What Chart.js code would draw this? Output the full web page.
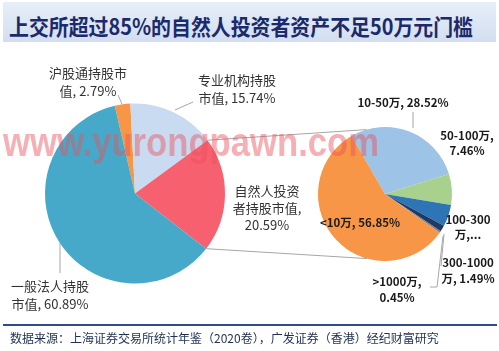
<!DOCTYPE html>
<html>
<head>
<meta charset="utf-8">
<script src="https://cdn.jsdelivr.net/npm/chart.js@4.4.1/dist/chart.umd.min.js"></script>
<style>
  html, body { margin: 0; padding: 0; background: #fff; }
  #wrap { position: relative; width: 499px; height: 351px; overflow: hidden; font-family: "Noto Sans CJK SC", sans-serif; }
  #title { position: absolute; left: 3px; top: 2px; width: 493px; height: 40px; background: linear-gradient(#e7eef8, #d2def0); }
  #title span { position: absolute; left: 6px; top: 12px; line-height: 22px; font-size: 22px; font-weight: bold; color: #1b2a6b;
                white-space: nowrap; transform-origin: 0 50%; }
  canvas { position: absolute; left: 0; top: 0; }
  #wm { position: absolute; left: 3px; top: 122px; font-family: "Liberation Sans", sans-serif; font-size: 40px; line-height: 40px;
        font-weight: bold; color: rgba(236, 80, 92, 0.45); white-space: nowrap; pointer-events: none;
        transform-origin: 0 50%; }
  #rule { position: absolute; left: 3px; top: 324px; width: 494px; height: 2px; background: #2e4c8a; }
  #src { position: absolute; left: 10px; top: 332px; font-size: 12px; line-height: 12px; color: #1f3050; white-space: nowrap; }
</style>
</head>
<body>
<div id="wrap">
  <div id="title"><span id="titleText">上交所超过85%的自然人投资者资产不足50万元门槛</span></div>
  <canvas id="leftPie" width="499" height="351"></canvas>
  <canvas id="rightPie" width="499" height="351"></canvas>
  <div id="wm">www.yurongpawn.com</div>
  <div id="rule"></div>
  <div id="src">数据来源：上海证券交易所统计年鉴（2020卷），广发证券（香港）经纪财富研究</div>
</div>
<script>
// 数据
const leftNames = ['沪股通持股市值', '专业机构持股市值', '自然人投资者持股市值', '一般法人持股市值'];
const leftValues = [2.79, 15.74, 20.59, 60.89];
const leftColors = ['#f79646', '#c9dbf0', '#f7606f', '#47a9c9'];

const rightNames = ['10-50万', '50-100万', '100-300万', '300-1000万', '>1000万', '<10万'];
const rightValues = [28.52, 7.46, 5.23, 1.49, 0.45, 56.85];
const rightColors = ['#9dc3e6', '#a9d18e', '#2e75b6', '#1f3864', '#7f7f7f', '#f79646'];

// 标签位置: [中心x, 首行y, 行高, 换行位置]
const leftLabelPos = [
  [88, 73, 18, [6]],
  [237, 80, 18, [6]],
  [267, 191, 17, [5, 11]],
  [50, 286, 18, [6]]
];
const rightLabelPos = [
  [403, 103, 15, []],
  [467, 136, 15, [9]],
  [468, 220, 15, [7]],
  [468, 263, 16, [8]],
  [397, 282, 16, [7]],
  [360, 223, 15, []]
];
// 引导线
const leftLeaders = [
  [[118, 95], [122, 104]],
  [[175, 110], [193, 102]],
  null,
  [[60, 273], [60, 243]]
];
const rightLeaders = [
  [[413, 112], [413, 128]],
  null, null,
  [[444, 234], [441, 266]],
  [[443, 236], [437, 287], [430, 287]],
  null
];

// 标题宽度适配
function fitWidth(id, w) {
  const el = document.getElementById(id);
  el.style.transform = 'scaleX(' + (w / el.getBoundingClientRect().width) + ')';
}
fitWidth('titleText', 464);
fitWidth('wm', 376);

function labelText(name, v) {
  return name + ', ' + v.toFixed(2) + '%';
}

function splitLabel(text, breaks) {
  const out = [];
  let s = 0;
  breaks.forEach(function(b) { out.push(text.slice(s, b).trim()); s = b; });
  out.push(text.slice(s).trim());
  return out;
}

function drawLine(ctx, pts) {
  ctx.beginPath();
  ctx.moveTo(pts[0][0], pts[0][1]);
  for (let i = 1; i < pts.length; i++) ctx.lineTo(pts[i][0], pts[i][1]);
  ctx.stroke();
}

function makeLabelPlugin(names, values, pos, leaders, font, color, truncate) {
  return {
    id: 'labels',
    afterDraw: function(chart) {
      const ctx = chart.ctx;
      ctx.save();
      ctx.strokeStyle = '#a6a6a6';
      ctx.lineWidth = 1;
      leaders.forEach(function(l) { if (l) drawLine(ctx, l); });
      ctx.font = font;
      ctx.fillStyle = color;
      ctx.textAlign = 'center';
      ctx.textBaseline = 'middle';
      names.forEach(function(n, i) {
        const p = pos[i];
        let lines = splitLabel(labelText(n, values[i]), p[3]);
        if (truncate[i]) lines[lines.length - 1] = truncate[i];
        lines.forEach(function(t, k) { ctx.fillText(t, p[0], p[1] + k * p[2]); });
      });
      ctx.restore();
    }
  };
}

const leftChart = new Chart(document.getElementById('leftPie').getContext('2d'), {
  type: 'pie',
  data: {
    labels: leftNames,
    datasets: [{ data: leftValues, backgroundColor: leftColors, borderWidth: 0 }]
  },
  options: {
    responsive: false,
    animation: false,
    rotation: -13,
    layout: { padding: { left: 45, right: 274, top: 103, bottom: 67 } },
    plugins: { legend: { display: false }, tooltip: { enabled: false } }
  },
  plugins: [makeLabelPlugin(leftNames, leftValues, leftLabelPos, leftLeaders,
    '13px "Noto Sans CJK SC"', '#333333', {})]
});

// 连接线: 从左饼"自然人"扇区到右饼
const connectorPlugin = {
  id: 'connector',
  afterDraw: function(chart) {
    const red = leftChart.getDatasetMeta(0).data[2];
    const c = chart.getDatasetMeta(0).data[0];
    const a1 = red.startAngle, a2 = red.endAngle;
    const b1 = -Math.PI / 2 - 0.28, b2 = Math.PI / 2 + 0.27;
    const ctx = chart.ctx;
    ctx.save();
    ctx.strokeStyle = '#a6a6a6';
    ctx.lineWidth = 1;
    drawLine(ctx, [[red.x + red.outerRadius * Math.cos(a1), red.y + red.outerRadius * Math.sin(a1)],
                   [c.x + c.outerRadius * Math.cos(b1), c.y + c.outerRadius * Math.sin(b1)]]);
    drawLine(ctx, [[red.x + red.outerRadius * Math.cos(a2), red.y + red.outerRadius * Math.sin(a2)],
                   [c.x + c.outerRadius * Math.cos(b2), c.y + c.outerRadius * Math.sin(b2)]]);
    ctx.restore();
  }
};

const rightChart = new Chart(document.getElementById('rightPie').getContext('2d'), {
  type: 'pie',
  data: {
    labels: rightNames,
    datasets: [{ data: rightValues, backgroundColor: rightColors, borderWidth: 0 }]
  },
  options: {
    responsive: false,
    animation: false,
    rotation: -30,
    layout: { padding: { left: 318, right: 47, top: 127, bottom: 90 } },
    plugins: { legend: { display: false }, tooltip: { enabled: false } }
  },
  plugins: [connectorPlugin, makeLabelPlugin(rightNames, rightValues, rightLabelPos, rightLeaders,
    'bold 11.5px "Noto Sans CJK SC"', '#1a1a1a', { 2: '万,...' })]
});
</script>
</body>
</html>
